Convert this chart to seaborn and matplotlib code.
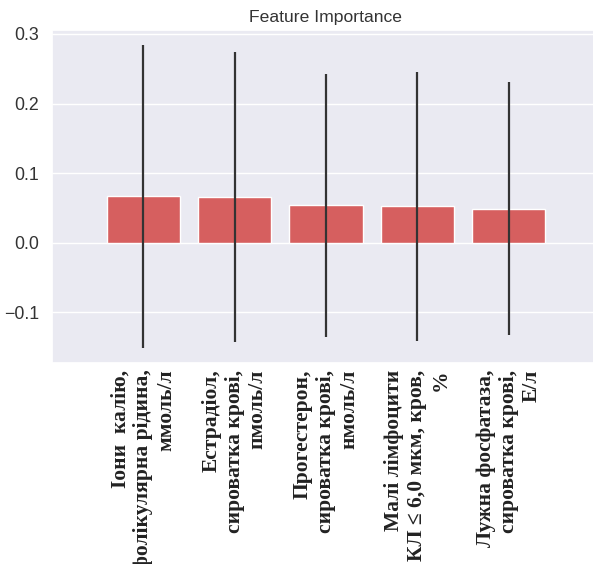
import pandas as pd
import matplotlib
matplotlib.use("Agg")
import matplotlib.pyplot as plt
import seaborn as sns

# дані
ознаки = [
    "Іони  калію,\nфолікулярна рідина,\nммоль/л",
    "Естрадіол,\nсироватка крові,\nпмоль/л",
    "Прогестерон,\nсироватка крові,\nнмоль/л",
    "Малі лімфоцити\nКЛ ≤ 6,0 мкм, кров,\n%",
    "Лужна фосфатаза,\nсироватка крові,\nЕ/л",
]
важливість = [0.0666, 0.0650, 0.0534, 0.0519, 0.0490]
std = [0.2175, 0.2085, 0.1890, 0.1940, 0.1820]

df = pd.DataFrame({"feature": ознаки, "importance": важливість, "std": std})

sns.set_theme(style="darkgrid")
plt.rcParams["font.family"] = ["Liberation Sans", "DejaVu Sans"]

fig = plt.figure(figsize=(5.93, 5.64), dpi=100)
ax = fig.add_axes([0.0877, 0.357, 0.924, 0.590])

sns.barplot(data=df, x="feature", y="importance", color="#d65f5f",
            saturation=1, width=0.8, errorbar=None, ax=ax)
ax.errorbar(range(len(df)), df["importance"], yerr=df["std"], fmt="none",
            ecolor="#333333", elinewidth=1.6, capsize=0)

ax.set_xlim(-1, len(df))
ax.set_title("Feature Importance", fontsize=12.6, color="#333333")
ax.set_xlabel("")
ax.set_ylabel("")
ax.tick_params(axis="y", labelsize=12.8, labelcolor="#333333")
ax.tick_params(axis="x", pad=-1)
for lbl in ax.get_xticklabels():
    lbl.set_rotation(90)
    lbl.set_fontfamily(["Liberation Serif", "DejaVu Serif"])
    lbl.set_fontweight("bold")
    lbl.set_fontsize(15.5)
    lbl.set_color("#222222")
    lbl.set_horizontalalignment("center")
    lbl.set_multialignment("right")

fig.savefig("out.png", dpi=100)
